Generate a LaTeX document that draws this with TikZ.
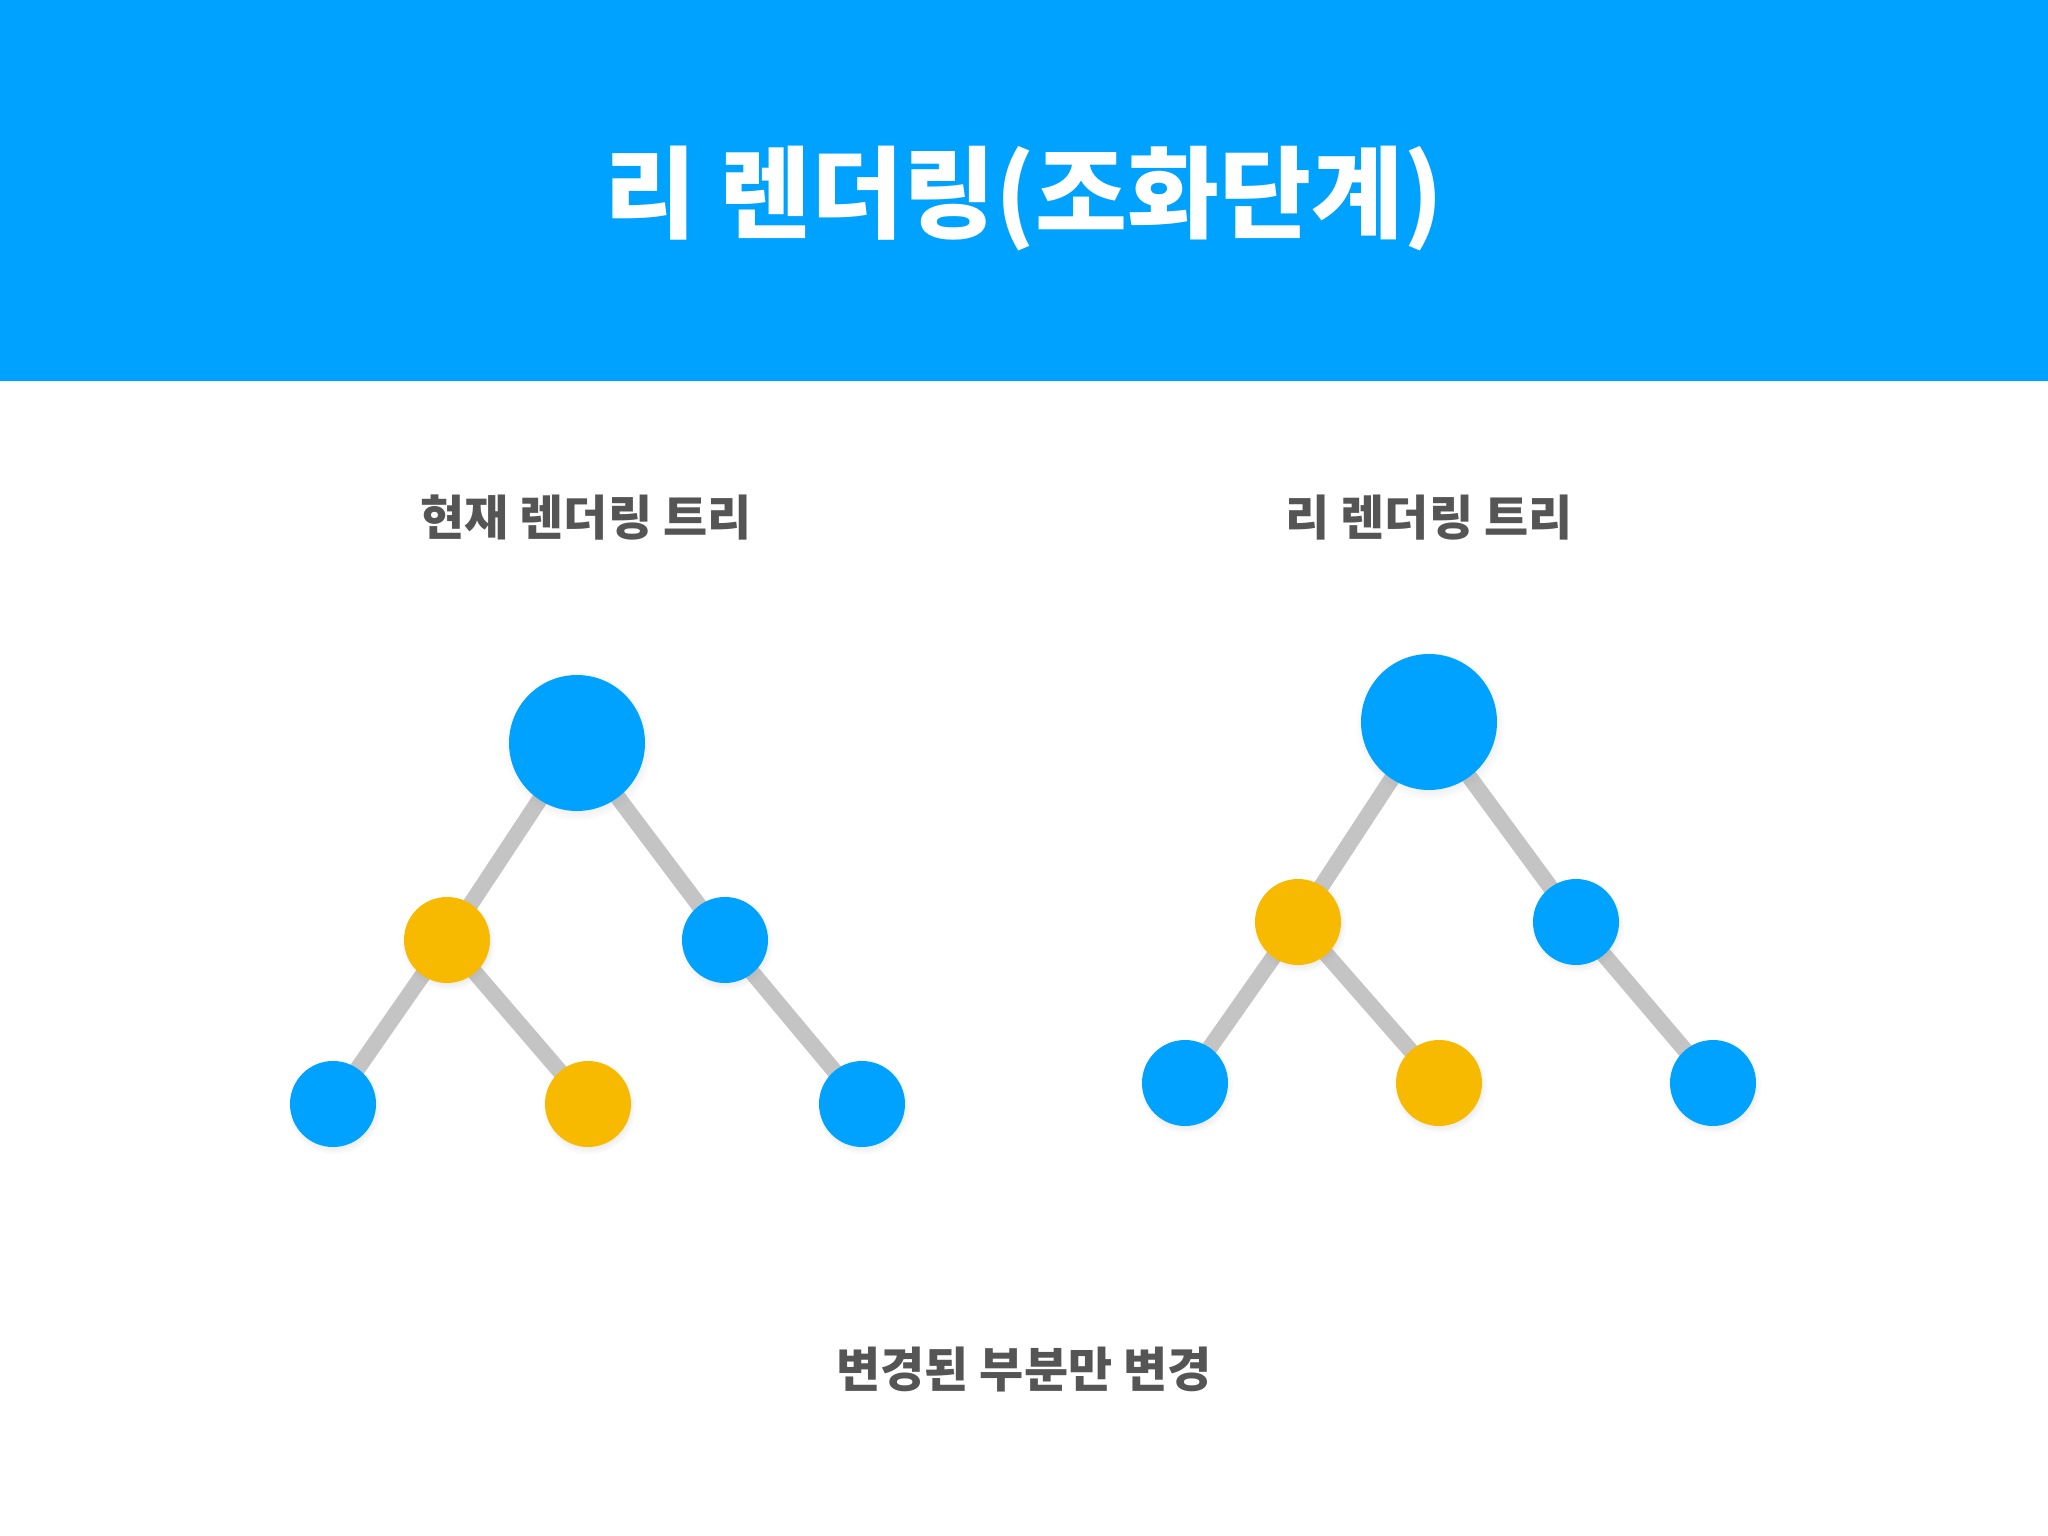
\documentclass[tikz,border=0pt]{standalone}
\usepackage{fontspec}
\newfontfamily\kr{Noto Sans CJK KR}
\usetikzlibrary{shadows}
\definecolor{hdblue}{HTML}{00A2FF}
\definecolor{nodeblue}{HTML}{00A2FF}
\definecolor{nodeyellow}{HTML}{F8BA00}
\definecolor{edgegray}{HTML}{C4C4C4}
\definecolor{txtgray}{HTML}{555555}
\pgfdeclarelayer{bg}
\pgfdeclarelayer{edges}
\pgfsetlayers{bg,edges,main}
\tikzset{
    bignode/.style={circle, fill=nodeblue, minimum size=136pt, inner sep=0pt,
        circular drop shadow={shadow xshift=1pt, shadow yshift=-3pt, opacity=0.12}},
    bluenode/.style={circle, fill=nodeblue, minimum size=86pt, inner sep=0pt,
        circular drop shadow={shadow xshift=1pt, shadow yshift=-3pt, opacity=0.12}},
    yellownode/.style={bluenode, fill=nodeyellow},
    link/.style={draw=edgegray, line width=16pt},
    caption/.style={text=txtgray, font=\kr\bfseries\fontsize{48}{52}\selectfont},
}

\begin{document}
\begin{tikzpicture}[x=1pt, y=-1pt]
\useasboundingbox (0,0) rectangle (2048,1536);
\begin{pgfonlayer}{bg}
\fill[white] (0,0) rectangle (2048,1536);
\fill[hdblue] (0,0) rectangle (2048,381);
\end{pgfonlayer}
\node[text=white, font=\kr\bfseries\fontsize{100}{110}\selectfont] (title) at (1024,198) {리 렌더링(조화단계)};

% current tree
\node[caption] (capL) at (586,518) {현재 렌더링 트리};
\node[bignode] (rootL) at (577,743) {};
\node[yellownode] (aL) at (447,940) {};
\node[bluenode] (bL) at (725,940) {};
\node[bluenode] (cL) at (333,1104) {};
\node[yellownode] (dL) at (588,1104) {};
\node[bluenode] (eL) at (862,1104) {};

% re-rendered tree
\node[caption] (capR) at (1429,518) {리 렌더링 트리};
\node[bignode] (rootR) at (1429,722) {};
\node[yellownode] (aR) at (1298,922) {};
\node[bluenode] (bR) at (1576,922) {};
\node[bluenode] (cR) at (1185,1083) {};
\node[yellownode] (dR) at (1439,1083) {};
\node[bluenode] (eR) at (1713,1083) {};

\begin{pgfonlayer}{edges}
\foreach \s in {L,R}{
    \draw[link] (root\s.center) -- (a\s.center);
    \draw[link] (root\s.center) -- (b\s.center);
    \draw[link] (a\s.center) -- (c\s.center);
    \draw[link] (a\s.center) -- (d\s.center);
    \draw[link] (b\s.center) -- (e\s.center);
}
\end{pgfonlayer}

\node[caption] (note) at (1024,1369) {변경된 부분만 변경};
\end{tikzpicture}
\end{document}
